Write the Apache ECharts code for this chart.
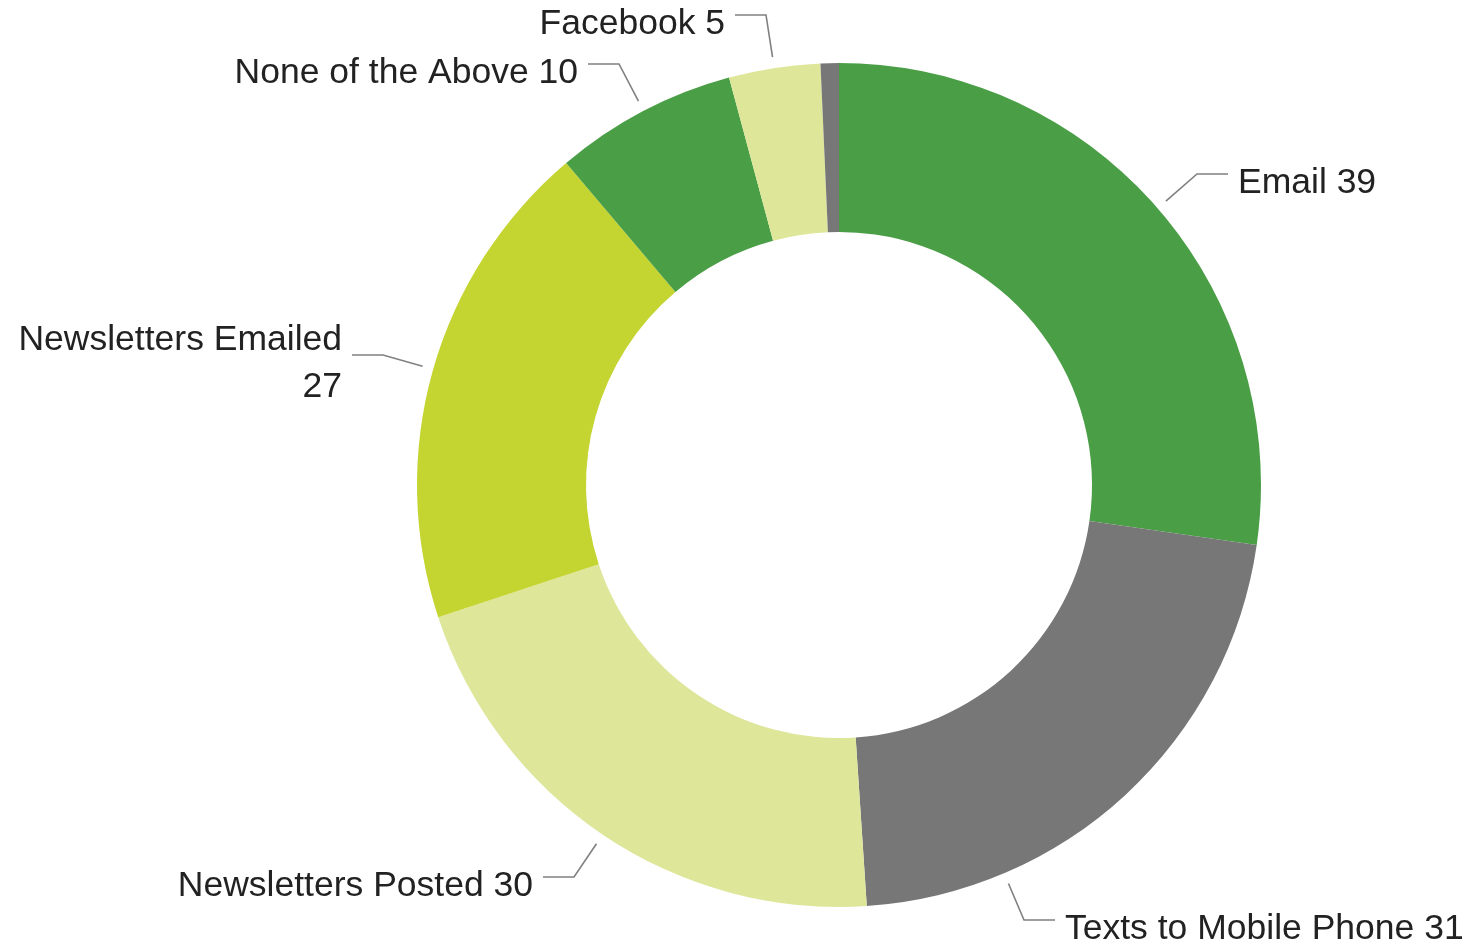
<!DOCTYPE html>
<html>
<head>
<meta charset="utf-8">
<title>Communication preferences</title>
<script src="https://cdn.jsdelivr.net/npm/echarts@6/dist/echarts.min.js"></script>
<style>
  html, body { margin: 0; padding: 0; background: #ffffff; }
  #chart { width: 1481px; height: 949px; }
</style>
</head>
<body>
<div id="chart"></div>
<script>
// Responses per channel, clockwise from 12 o'clock
const categories = [
  'Email',
  'Texts to Mobile Phone',
  'Newsletters Posted',
  'Newsletters Emailed',
  'None of the Above',
  'Facebook',
  'Other'
];
const counts = [39, 31, 30, 27, 10, 5, 1];
// Label text per slice ('' = no label)
const labelTexts = [
  'Email 39',
  'Texts to Mobile Phone 31',
  'Newsletters Posted 30',
  'Newsletters Emailed\n27',
  'None of the Above 10',
  'Facebook 5',
  ''
];
const sliceColors = ['#4a9e46', '#777777', '#dee69a', '#c4d430', '#4a9e46', '#dee69a', '#777777'];

// Ring geometry
const CENTER = [839, 485];
const INNER_R = 253;
const OUTER_R = 422;
const LEADER_START_R = OUTER_R + 11; // leader lines begin just outside the ring
const LEADER_FLAT = 31;              // horizontal run of each leader
const LEADER_GAP = 10;               // space between leader end and text
const LEADER_RISE = 9;               // leader's flat run sits a little above the text middle

// Where each label sits: text anchor point and alignment
const labelPlacement = [
  { x: 1238, y: 183, align: 'left' },
  { x: 1065, y: 929, align: 'left' },
  { x: 533,  y: 886, align: 'right' },
  { x: 342,  y: 364, align: 'right' },
  { x: 578,  y: 73,  align: 'right' },
  { x: 725,  y: 24,  align: 'right' },
  null
];

// Leader: radial stub from the ring toward the elbow, then flat run to the text
function leaderPoints(p) {
  const dir = p.align === 'left' ? -1 : 1;
  const endX = p.x + dir * LEADER_GAP;
  const elbowX = endX + dir * LEADER_FLAT;
  const elbowY = p.y - LEADER_RISE;
  const dx = elbowX - CENTER[0];
  const dy = elbowY - CENTER[1];
  const d = Math.sqrt(dx * dx + dy * dy);
  const start = [CENTER[0] + dx / d * LEADER_START_R, CENTER[1] + dy / d * LEADER_START_R];
  return [start, [elbowX, elbowY], [endX, elbowY]];
}

const seriesData = categories.map((name, i) => ({
  name: name,
  value: counts[i],
  itemStyle: { color: sliceColors[i] },
  label: { show: labelTexts[i] !== '', formatter: labelTexts[i] },
  labelLine: { show: labelTexts[i] !== '' }
}));

const chart = echarts.init(document.getElementById('chart'), null, { renderer: 'canvas' });
chart.setOption({
  backgroundColor: '#ffffff',
  animation: false,
  series: [{
    type: 'pie',
    center: CENTER,
    radius: [INNER_R, OUTER_R],
    startAngle: 90,
    clockwise: true,
    avoidLabelOverlap: false,
    label: {
      show: true,
      position: 'outside',
      color: '#222222',
      fontFamily: '"Liberation Sans", Arial, sans-serif',
      fontSize: 35.5,
      lineHeight: 47
    },
    labelLine: {
      show: true,
      length: 30,
      length2: 30,
      lineStyle: { color: '#808080', width: 1.6 }
    },
    labelLayout: function (params) {
      const p = labelPlacement[params.dataIndex];
      if (!p) return {};
      return {
        x: p.x,
        y: p.y,
        align: p.align,
        verticalAlign: 'middle',
        hideOverlap: false,
        moveOverlap: null,
        labelLinePoints: leaderPoints(p)
      };
    },
    emphasis: { disabled: true },
    data: seriesData
  }]
});
</script>
</body>
</html>
